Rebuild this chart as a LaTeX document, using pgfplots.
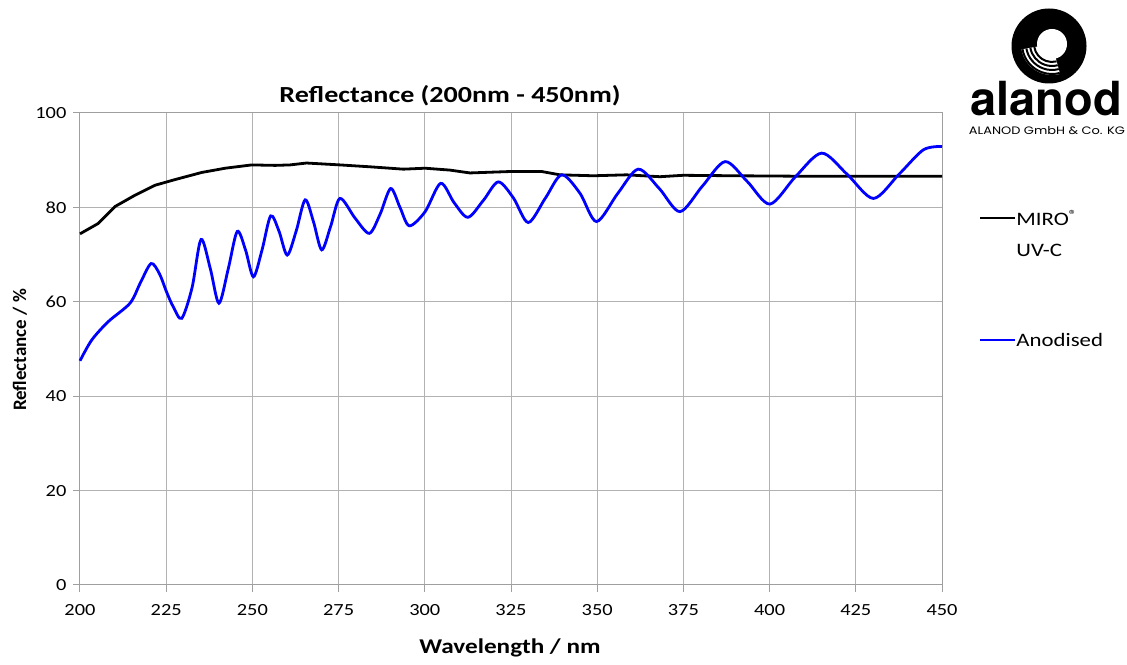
\documentclass[border=0pt]{standalone}
\usepackage{fontspec}
\setmainfont{Carlito}
\newfontfamily\logofont{TeX Gyre Heros}
\newfontfamily\smallfont{Poppins}
\usepackage{pgfplots}
\pgfplotsset{compat=1.18}
\pgfplotstableread{
x y
200 74.4
205.3 76.6
210.2 80.2
216.0 82.6
221.8 84.7
227.6 85.9
235.3 87.4
242.1 88.3
249.8 89.0
256.6 88.9
260.9 89.0
265.7 89.4
275.4 89.0
284.1 88.6
293.8 88.1
300.1 88.3
307.3 87.9
313.1 87.3
324.7 87.6
333.9 87.6
339.2 86.9
348.9 86.7
358.5 86.9
368.2 86.5
374.9 86.8
390 86.7
410 86.6
430 86.6
450 86.6
}\miro
\pgfplotstableread{
x y
200 47.5
203.4 51.9
208.2 55.8
214.5 59.7
217.5 64
220.6 68.1
223 66
225.1 62.1
227 59
229.5 56.5
232.5 63
235.1 73.2
237.8 67
240.3 59.7
243 67
245.6 74.9
248 71
250.3 65.3
252.8 71
255.3 78.2
257.7 75
260.1 69.9
262.7 75
265.3 81.6
267.7 77
270.1 71.0
272.7 76
275.4 81.9
279.8 77.7
283.9 74.5
287 78.5
290.1 84.0
292.8 80
295.5 76.1
300.1 79.1
304.6 85.1
308.5 81
312.5 77.9
317 81.5
321.3 85.4
325.7 82
330.0 76.8
335 82
339.7 86.9
345 83
349.8 77.0
356 83
361.9 88.1
368 84
374.0 79.1
380.5 84.5
387.1 89.7
393.5 85.5
400.1 80.7
407.5 86.5
415.1 91.5
422.5 87
430.1 81.9
437.5 87
444.6 92.2
450 92.9
}\anod
\begin{document}
\begin{tikzpicture}
\useasboundingbox (0pt,0pt) rectangle (1127pt,664pt);
\begin{axis}[
  at={(80pt,79pt)}, anchor=south west,
  scale only axis, width=862pt, height=472pt,
  xmin=200, xmax=450, ymin=0, ymax=100,
  xtick={200,225,...,450}, ytick={0,20,...,100},
  grid=major,
  grid style={draw=gray!60, line width=1pt},
  axis line style={draw=gray!75, line width=1pt},
  tick style={draw=gray!75, line width=1pt},
  tick align=outside, major tick length=7pt, tick pos=left,
  ticklabel style={font=\fontsize{17}{17}\selectfont, xscale=1.2},
  xticklabel style={yshift=-9pt},
  yticklabel style={xshift=-2pt},
  /pgf/number format/assume math mode=true,
  clip=false,
]
\addplot[black, line width=2.8pt] table[x=x,y=y] {\miro};
\addplot[blue, line width=2.8pt, smooth, tension=0.5] table[x=x,y=y] {\anod};
\end{axis}
% title and labels
\node[font=\bfseries\fontsize{23}{23}\selectfont, xscale=1.22] at (450pt,568pt) {Reflectance (200nm - 450nm)};
\node[font=\bfseries\fontsize{21}{21}\selectfont, xscale=1.2] at (510pt,16pt) {Wavelength / nm};
\node[font=\bfseries\fontsize{19}{19}\selectfont, rotate=90] at (20pt,314pt) {Reflectance / \%};
% legend
\draw[black, line width=2.8pt] (980pt,446pt) -- (1015pt,446pt);
\node[anchor=west, inner sep=1pt, font=\fontsize{19}{19}\selectfont, xscale=1.2] at (1015pt,446pt) {MIRO\textsuperscript{®}};
\node[anchor=west, inner sep=1pt, font=\fontsize{19}{19}\selectfont, xscale=1.2] at (1015pt,414pt) {UV-C};
\draw[blue, line width=2.8pt] (980pt,324pt) -- (1015pt,324pt);
\node[anchor=west, inner sep=1pt, font=\fontsize{19}{19}\selectfont, xscale=1.2] at (1015pt,324pt) {Anodised};
% logo
\fill[black] (1049pt,618pt) circle (37.5pt);
\fill[white] (1052pt,620pt) -- ++(190:31pt) arc (190:285:31pt) -- cycle;
\fill[white] (1052pt,620pt) circle (15pt);
\foreach \r in {18,22,26,30} {
  \draw[black, line width=2pt] ([shift={(190:\r pt)}]1052pt,620pt) arc (190:285:\r pt);
}
\node[font=\logofont\bfseries\fontsize{47}{47}\selectfont, inner sep=0pt] at (1046pt,565pt) {alanod};
\node[font=\smallfont\fontsize{10.8}{10.8}\selectfont, inner sep=0pt, xscale=1.2] at (1047pt,533pt) {ALANOD GmbH \& Co. KG};
\end{tikzpicture}
\end{document}
